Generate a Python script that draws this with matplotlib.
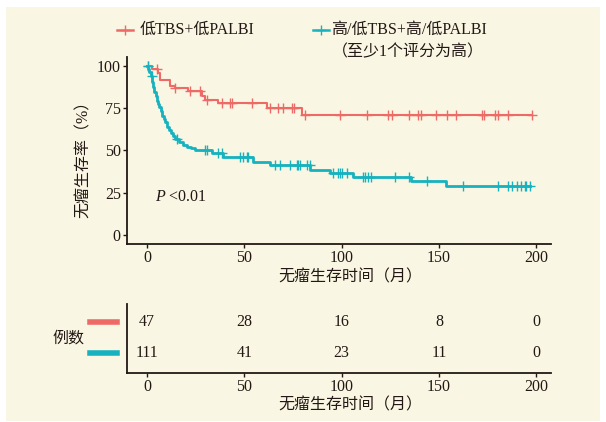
import numpy as np
import matplotlib
matplotlib.use("Agg")
import matplotlib.pyplot as plt
from matplotlib.lines import Line2D
from matplotlib.patches import Rectangle

plt.rcParams['font.family'] = ['Liberation Serif', 'Noto Sans CJK SC', 'DejaVu Sans']
plt.rcParams['axes.unicode_minus'] = False
plt.rcParams['mathtext.fontset'] = 'custom'
plt.rcParams['mathtext.it'] = 'Liberation Serif:italic'
plt.rcParams['mathtext.rm'] = 'Liberation Serif'

# ---------------- data ----------------
group_labels = ["低TBS+低PALBI", "高/低TBS+高/低PALBI", "（至少1个评分为高）"]

red_t = [0, 2.4, 5.8, 6.7, 11.8, 14.4, 21.2, 28.1, 29.8, 36.6, 61.5, 79.5]
red_s = [100, 98.0, 95.6, 91.6, 88.2, 86.6, 84.8, 81.9, 79.9, 77.9, 74.8, 71.0]
red_cens = [0.4, 5.0, 14.4, 22.0, 27.0, 30.7, 38.4, 42.6, 43.5, 54.0, 63.0, 67.4, 70.0,
            74.4, 75.5, 81.0, 99.0, 113.0, 124.0, 126.0, 134.8, 139.0, 140.6, 148.5,
            154.0, 159.0, 172.0, 173.0, 179.0, 180.5, 185.5, 198.0]

teal_t = [0, 0.7, 1.2, 1.8, 2.6, 3.2, 3.8, 4.4, 5.0, 5.6, 6.3, 7.0, 7.8, 8.5, 9.3, 10.2,
          11.2, 12.2, 13.2, 14.6, 16.5, 18.5, 20.5, 22.5, 24.5, 33.5, 39.2, 54.6, 63.0,
          84.0, 94.0, 106.0, 135.7, 153.6]
teal_s = [100, 98.2, 96.4, 93.7, 90.1, 87.4, 84.7, 82.0, 79.3, 77.5, 75.7, 73.0, 70.3,
          68.5, 66.7, 64.0, 62.2, 60.4, 58.6, 56.8, 55.0, 53.2, 52.2, 51.2, 50.2, 48.6,
          46.0, 43.4, 41.4, 38.5, 36.4, 34.3, 32.1, 29.2]
teal_cens = [0.4, 2.4, 15.2, 29.8, 30.7, 36.6, 38.4, 47.8, 49.5, 51.2, 52.0, 65.8, 68.3,
             73.5, 77.0, 77.6, 78.6, 82.0, 83.5, 95.6, 98.0, 99.0, 100.0, 102.6, 111.0,
             112.0, 113.6, 115.0, 127.4, 134.5, 143.7, 162.4, 180.5, 185.7, 187.4,
             190.0, 192.0, 194.2, 195.0, 197.0]

risk_times = [0, 50, 100, 150, 200]
risk_red = [47, 28, 16, 8, 0]
risk_teal = [111, 41, 23, 11, 0]

x_ticks = [0, 50, 100, 150, 200]
y_ticks = [0, 25, 50, 75, 100]
p_text = "<0.01"

# ---------------- style ----------------
W, H = 606, 422
RED = "#EE6A66"
TEAL = "#17B2BF"
BG = "#F9F7E3"
INK = "#231815"
FS = 11.5

fig = plt.figure(figsize=(W / 100, H / 100), dpi=100)
fig.patch.set_facecolor("white")
fig.patches.append(Rectangle((6 / W, 1 - 421 / H), 594 / W, 414 / H,
                             transform=fig.transFigure, facecolor=BG,
                             edgecolor="none", zorder=-10))

def fx(px):
    return px / W

def fy(py):
    return 1 - py / H

L, R = 127, 551
ax = fig.add_axes([fx(L), fy(244), fx(R) - fx(L), fy(57) - fy(244)])
ax.set_facecolor("none")
ax.set_xlim(-10.3, 207.6)
ax.set_ylim(-5.3, 105.1)

def step_value(t, s, x):
    idx = np.searchsorted(np.asarray(t), np.asarray(x), side="right") - 1
    return np.asarray(s)[idx]

for t, s, cens, col, lw in [(red_t, red_s, red_cens, RED, 1.5),
                            (teal_t, teal_s, teal_cens, TEAL, 2.0)]:
    tt = list(t) + [max(cens)]
    ss = list(s) + [s[-1]]
    ax.step(tt, ss, where="post", color=col, lw=lw, zorder=3)
    ax.plot(cens, step_value(t, s, cens), linestyle="none", marker="+",
            markersize=7, markeredgewidth=1.0, color=col, zorder=4)

for sp in ["top", "right"]:
    ax.spines[sp].set_visible(False)
for sp in ["left", "bottom"]:
    ax.spines[sp].set_color(INK)
    ax.spines[sp].set_linewidth(1.3)

ax.set_xticks(x_ticks)
ax.set_yticks(y_ticks)
ax.tick_params(axis="both", colors=INK, labelcolor=INK, labelsize=FS,
               length=3, width=1.0, pad=1.5)
ax.text(4, 22.7, "$P$" + " " + p_text, fontsize=FS, color=INK, ha="left", va="center")

fig.text(fx(350), fy(277), "无瘤生存时间（月）", fontsize=FS, color=INK,
         ha="center", va="center")
fig.text(fx(84), fy(155), "无瘤生存率（%）", fontsize=FS, color=INK,
         ha="center", va="center", rotation=90)

# legend (manual)
legend_items = [(RED, 117, 140), (TEAL, 313, 331)]
for (col, hx, tx) in legend_items:
    fig.lines.append(Line2D([fx(hx), fx(hx + 16)], [fy(30), fy(30)],
                            transform=fig.transFigure, color=col, lw=1.8))
    fig.lines.append(Line2D([fx(hx + 8)], [fy(30)], transform=fig.transFigure,
                            color=col, marker="+", markersize=7, markeredgewidth=1.0))
fig.text(fx(140), fy(30), group_labels[0], fontsize=FS, color=INK, ha="left", va="center")
fig.text(fx(331), fy(30), group_labels[1], fontsize=FS, color=INK, ha="left", va="center")
fig.text(fx(332), fy(52), group_labels[2], fontsize=FS, color=INK, ha="left", va="center")

# risk table
ax2 = fig.add_axes([fx(L), fy(373), fx(R) - fx(L), fy(304) - fy(373)])
ax2.set_facecolor("none")
ax2.set_xlim(ax.get_xlim())
ax2.set_ylim(-0.645, 1.58)
for sp in ["top", "right"]:
    ax2.spines[sp].set_visible(False)
for sp in ["left", "bottom"]:
    ax2.spines[sp].set_color(INK)
    ax2.spines[sp].set_linewidth(1.3)
ax2.set_xticks(x_ticks)
ax2.set_yticks([])
ax2.tick_params(axis="x", colors=INK, labelcolor=INK, labelsize=FS, length=3,
                width=1.0, pad=1.5)
for row, vals in [(1, risk_red), (0, risk_teal)]:
    for xt, v in zip(risk_times, vals):
        ax2.text(xt, row, str(v), fontsize=FS, color=INK, ha="center", va="center")

fig.lines.append(Line2D([fx(90), fx(117)], [fy(322), fy(322)], transform=fig.transFigure,
                        color=RED, lw=4))
fig.lines.append(Line2D([fx(90), fx(117)], [fy(353), fy(353)], transform=fig.transFigure,
                        color=TEAL, lw=4))
fig.text(fx(68), fy(339), "例数", fontsize=FS, color=INK, ha="center", va="center")
fig.text(fx(350), fy(405), "无瘤生存时间（月）", fontsize=FS, color=INK,
         ha="center", va="center")

fig.savefig("out.png", dpi=100, facecolor="white")
